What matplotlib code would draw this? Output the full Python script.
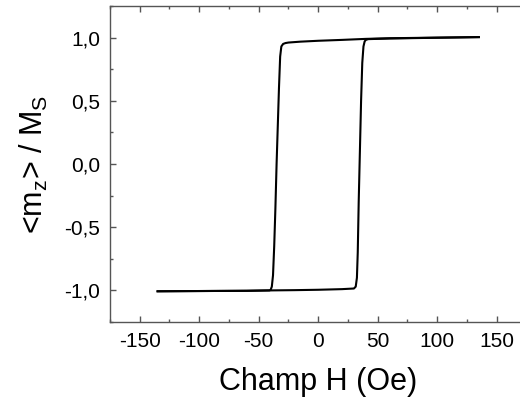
import numpy as np
import matplotlib
matplotlib.use("Agg")
import matplotlib.pyplot as plt
from matplotlib.ticker import MultipleLocator, FuncFormatter

plt.rcParams['font.family'] = ['Liberation Sans', 'DejaVu Sans']

# branche descendante (H de +135 vers -135)
h_desc = [135, 100, 60, 40, 20, 0, -15, -25, -27.5, -29.5, -31, -32, -33, -34, -35, -36,
          -37, -38, -39, -40, -41, -60, -100, -135]
m_desc = [1.004, 1.0, 0.995, 0.99, 0.982, 0.975, 0.968, 0.961, 0.957, 0.95, 0.93, 0.85,
          0.6, 0.3, 0.0, -0.35, -0.65, -0.88, -0.97, -0.995, -1.0, -1.003, -1.005, -1.007]

# branche montante (H de -135 vers +135)
h_asc = [-135, -100, -60, -40, -20, 0, 20, 30, 31.5, 32.5, 33.2, 34, 35, 36, 37, 38,
         39, 40, 42, 60, 100, 135]
m_asc = [-1.007, -1.005, -1.003, -1.0, -0.998, -0.995, -0.99, -0.985, -0.97, -0.9,
         -0.7, -0.3, 0.1, 0.5, 0.8, 0.93, 0.97, 0.982, 0.988, 0.993, 0.999, 1.004]

fig = plt.figure(figsize=(5.2, 4.01), dpi=100)
ax = fig.add_axes([0.2115, 0.197, 0.801, 0.788])

ax.plot(h_desc, m_desc, color='black', lw=1.5)
ax.plot(h_asc, m_asc, color='black', lw=1.5)

ax.set_xlim(-175, 175)
ax.set_ylim(-1.25, 1.25)

ax.xaxis.set_major_locator(MultipleLocator(50))
ax.xaxis.set_minor_locator(MultipleLocator(25))
ax.yaxis.set_major_locator(MultipleLocator(0.5))
ax.yaxis.set_minor_locator(MultipleLocator(0.25))
ax.yaxis.set_major_formatter(FuncFormatter(lambda v, p: ("%.1f" % v).replace('.', ',')))
ax.xaxis.set_major_formatter(FuncFormatter(lambda v, p: "%d" % v))

for s in ax.spines.values():
    s.set_color('#555555')
    s.set_linewidth(1.0)

ax.tick_params(which='both', direction='in', top=True, right=True, color='#555555',
               labelsize=15, width=1.0)
ax.tick_params(which='major', length=4, pad=7)
ax.tick_params(which='minor', length=2)

ax.set_xlabel('Champ H (Oe)', fontsize=22, labelpad=12)
ax.set_ylabel(r'<m$_\mathregular{z}$> / M$_\mathregular{S}$', fontsize=22, labelpad=10)

fig.savefig('out.png', dpi=100)
